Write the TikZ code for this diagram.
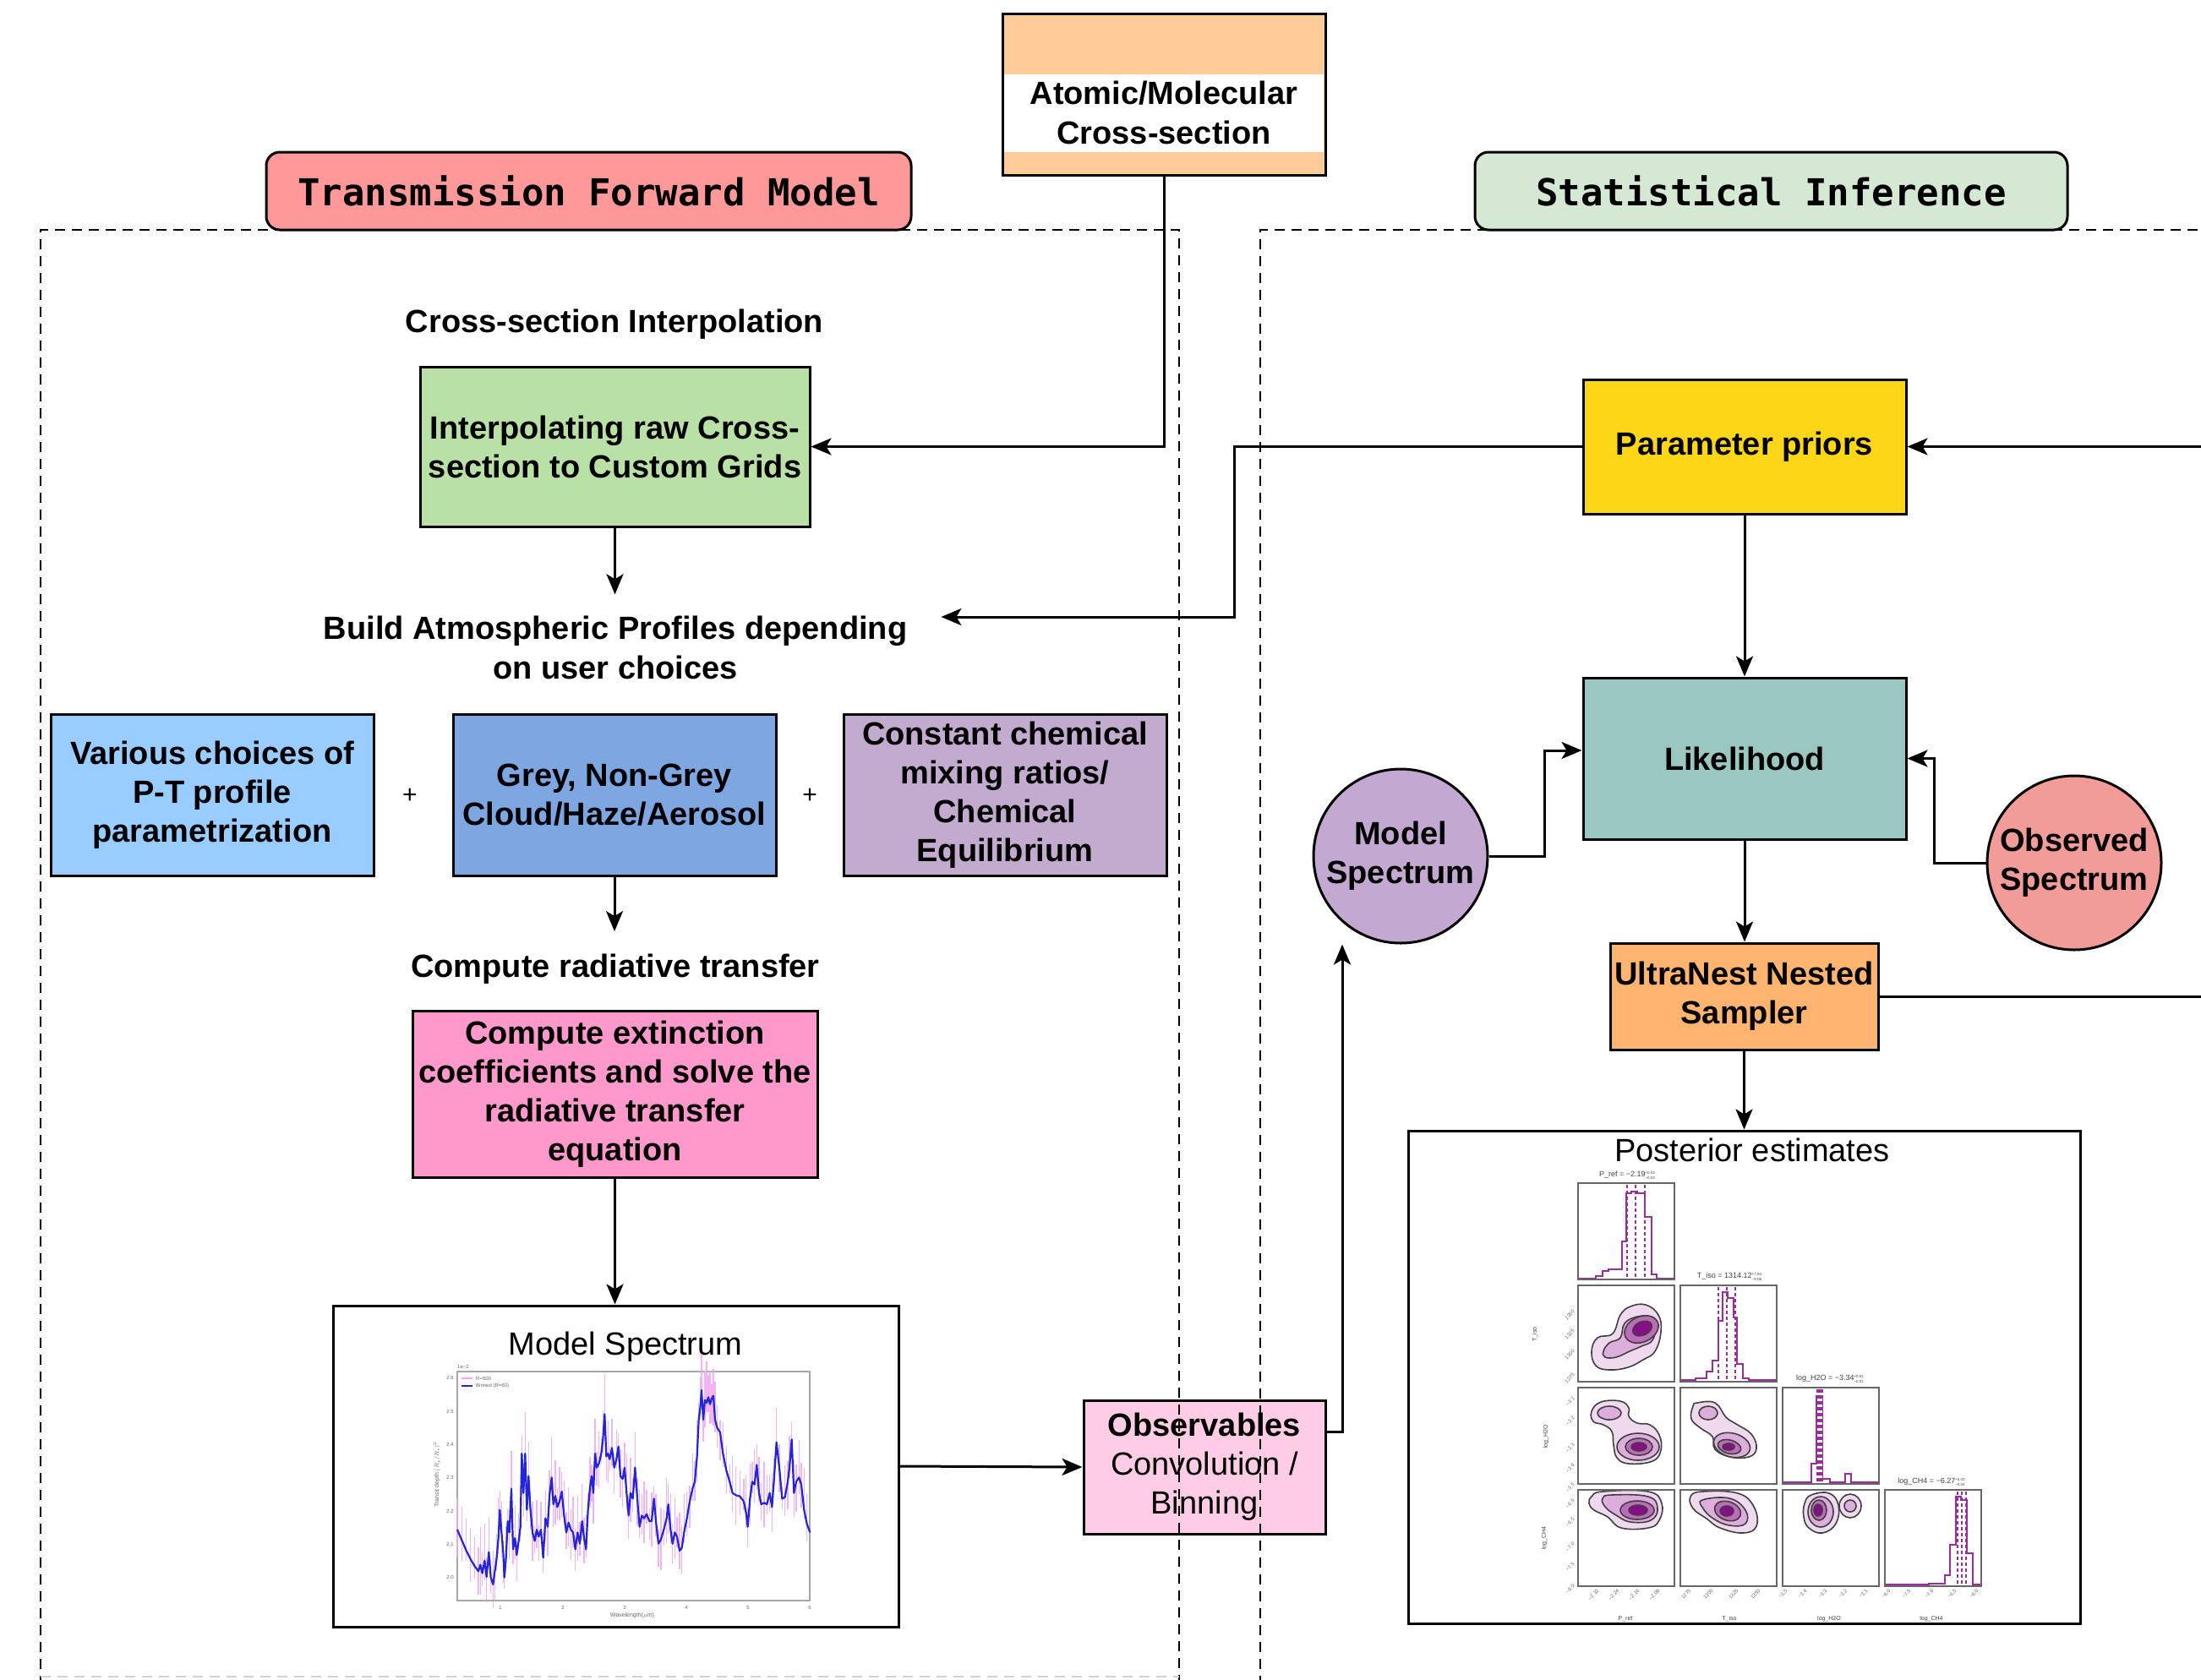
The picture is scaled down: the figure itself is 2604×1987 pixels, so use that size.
\documentclass[tikz,border=0pt]{standalone}
\usepackage{fontspec}
\setmainfont{Liberation Sans}
\setmonofont{DejaVu Sans Mono}
\usetikzlibrary{arrows.meta,shapes.geometric,calc}
\definecolor{cAtom}{HTML}{FFCC99}
\definecolor{cHdrL}{HTML}{FF9999}
\definecolor{cHdrR}{HTML}{D5E8D4}
\definecolor{cInterp}{HTML}{B9E0A5}
\definecolor{cPrior}{HTML}{FDD617}
\definecolor{cLik}{HTML}{9AC7BF}
\definecolor{cMS}{HTML}{C3A8D1}
\definecolor{cObsd}{HTML}{F19C99}
\definecolor{cUltra}{HTML}{FFB570}
\definecolor{cPT}{HTML}{99CCFF}
\definecolor{cCloud}{HTML}{7EA6E0}
\definecolor{cChem}{HTML}{C3ABD0}
\definecolor{cComp}{HTML}{FF99CC}
\definecolor{cObs}{HTML}{FFCCE6}
\definecolor{cpA}{HTML}{EFD9EF}
\definecolor{cpB}{HTML}{DDAEDB}
\definecolor{cpC}{HTML}{BB6DB9}
\definecolor{cpD}{HTML}{880E88}
\definecolor{cHist}{HTML}{9B2C9B}
\definecolor{cBlue}{HTML}{2424D8}
\definecolor{cPinkBar}{HTML}{F2A6F2}
\newcommand\pmerr[2]{\raisebox{-0.6ex}{\fontsize{4.5}{7}\selectfont\shortstack[l]{#1\\#2}}}
\begin{document}
\begin{tikzpicture}[x=1pt,y=-1pt,
  box/.style={draw=black, line width=3pt, align=center, font=\fontsize{38}{46}\selectfont\bfseries, inner sep=0pt},
  hdr/.style={draw=black, line width=3pt, rounded corners=16pt, font=\fontsize{44}{50}\selectfont\ttfamily\bfseries, inner sep=0pt},
  lbl/.style={align=center, font=\fontsize{38}{47}\selectfont\bfseries, inner sep=27pt},
  arr/.style={line width=3pt, -{Stealth[length=24pt,width=20pt,inset=6pt]}},
  ln/.style={line width=3pt},
  dashbox/.style={line width=2.5pt, dash pattern=on 12pt off 8pt},
  pframe/.style={draw=gray!80!black, line width=1.2pt},
  cont/.style={draw=black!75, line width=1.6pt},
  hist/.style={draw=cHist, line width=1.8pt},
  hdash/.style={draw=cHist, line width=1.4pt, dash pattern=on 4pt off 3pt},
  tiny/.style={font=\fontsize{6}{7}\selectfont, text=black!60, inner sep=0pt},
  ptitle/.style={font=\fontsize{9}{10}\selectfont, text=black!75, inner sep=0pt}
]
\clip (0,0) rectangle (2604,1987);
\fill[white] (0,0) rectangle (2604,1987);

% headers
\node[hdr, fill=cHdrL, minimum width=763pt, minimum height=92pt] (hdrL) at (696.5,226) {Transmission Forward Model};
\node[hdr, fill=cHdrR, minimum width=701pt, minimum height=92pt] (hdrR) at (2095.5,226) {Statistical Inference};

% atomic cross-section
\node[box, fill=cAtom, minimum width=382pt, minimum height=191pt] (atom) at (1377,111.5) {};
\fill[white] (1188,88) rectangle (1566,180);
\node[lbl, inner sep=0pt] (atomtxt) at (1377,133) {Atomic/Molecular\\Cross-section};

% left column
\node[lbl, inner sep=0pt] (interpttl) at (727,384) {Cross-section Interpolation};
\node[box, fill=cInterp, minimum width=461pt, minimum height=189pt] (interp) at (727.5,528.5) {Interpolating raw Cross-\\section to Custom Grids};
\node[lbl, inner xsep=40pt, inner ysep=25pt] (build) at (728,766) {Build Atmospheric Profiles depending\\on user choices};

\node[box, fill=cPT, minimum width=382pt, minimum height=191pt] (pt) at (251,940.5) {Various choices of\\P-T profile\\parametrization};
\node[box, fill=cCloud, minimum width=382pt, minimum height=191pt] (cloud) at (727,940.5) {Grey, Non-Grey\\Cloud/Haze/Aerosol};
\node[box, fill=cChem, minimum width=382pt, minimum height=191pt] (chem) at (1189,940.5) {Constant chemical\\mixing ratios/\\Chemical\\Equilibrium};
\node[font=\fontsize{30}{30}\selectfont] (plus1) at (485,942) {+};
\node[font=\fontsize{30}{30}\selectfont] (plus2) at (958,942) {+};

\node[lbl] (radttl) at (728,1147) {Compute radiative transfer};
\node[box, fill=cComp, minimum width=479pt, minimum height=197pt] (comp) at (727.5,1294.5) {Compute extinction\\coefficients and solve the\\radiative transfer\\equation};

\node[box, fill=white, minimum width=669pt, minimum height=380pt] (spec) at (728.5,1735) {};
\node[font=\fontsize{38}{40}\selectfont, inner sep=0pt] (specttl) at (740,1594) {Model Spectrum};

\node[box, fill=cObs, minimum width=286pt, minimum height=158pt, font=\fontsize{38}{46}\selectfont] (obs) at (1425,1736) {\textbf{Observables}\\Convolution /\\Binning};

% spectrum plot
\draw[gray!70, line width=1.2pt] (541,1623) rectangle (958,1894);
\begin{scope}[xshift=480pt, yshift=-1580pt, x=0.33333pt, y=-0.33333pt]
\foreach \X/\Y in {183/690,200/730,215/765,230/795,245/820,258/838,265/815,272/845,280/800,287/858,295/770,302/860,310/885,316/840,322/800,329/720,334/620,340/700,346/770,350/860,356/790,362/660,368/700,375/545,381/760,388/720,394/780,401/730,407/680,412/420,418/560,424/420,430/620,436/500,442/610,450/700,458/730,465/690,472/715,480/690,488/790,496/650,504/680,510/570,518/505,524/600,531/570,538/610,546/590,554/555,562/640,570/700,578/665,586/690,594/700,602/760,610/700,618/740,626/660,633/720,640/760,647/620,654/540,660/500,666/560,672/420,678/470,686/455,694/420,700/370,706/280,712/430,718/420,724/440,732/400,740/470,748/440,755/395,762/500,770/510,777/470,784/560,791/640,798/560,806/580,814/470,822/580,830/680,838/640,846/650,855/635,865/660,873/660,881/580,888/660,897/740,906/725,916/690,926/650,932/600,940/690,947/740,955/700,963/715,972/765,980/755,988/700,998/650,1008/590,1018/545,1026/520,1034/430,1040/300,1046/250,1050/195,1056/300,1062/230,1068/240,1074/220,1080/245,1086/225,1092/215,1098/300,1106/330,1116/345,1126/420,1138/480,1150/520,1160/560,1172/568,1186/572,1200/590,1208/630,1214/680,1222/580,1230/520,1238/530,1246/460,1254/560,1262/600,1272/595,1282/600,1292/560,1300/610,1308/500,1316/380,1326/470,1336/580,1346/575,1356/520,1362/470,1370/370,1378/560,1386/520,1396/505,1404/530,1414/620,1424/670}
  {\draw[cPinkBar, opacity=0.85, line width=1.4pt] (\X,{\Y-40-mod(\X*7,110)}) -- (\X,{\Y+30+mod(\X*3,80)});}
\draw[cBlue, line width=2.2pt, line join=round] plot coordinates {(183,690) (200,730) (215,765) (230,795) (245,820) (258,838) (265,815) (272,845) (280,800) (287,858) (295,770) (302,860) (310,885) (316,840) (322,800) (329,720) (334,620) (340,700) (346,770) (350,860) (356,790) (362,660) (368,700) (375,545) (381,760) (388,720) (394,780) (401,730) (407,680) (412,420) (418,560) (424,420) (430,620) (436,500) (442,610) (450,700) (458,730) (465,690) (472,715) (480,690) (488,790) (496,650) (504,680) (510,570) (518,505) (524,600) (531,570) (538,610) (546,590) (554,555) (562,640) (570,700) (578,665) (586,690) (594,700) (602,760) (610,700) (618,740) (626,660) (633,720) (640,760) (647,620) (654,540) (660,500) (666,560) (672,420) (678,470) (686,455) (694,420) (700,370) (706,280) (712,430) (718,420) (724,440) (732,400) (740,470) (748,440) (755,395) (762,500) (770,510) (777,470) (784,560) (791,640) (798,560) (806,580) (814,470) (822,580) (830,680) (838,640) (846,650) (855,635) (865,660) (873,660) (881,580) (888,660) (897,740) (906,725) (916,690) (926,650) (932,600) (940,690) (947,740) (955,700) (963,715) (972,765) (980,755) (988,700) (998,650) (1008,590) (1018,545) (1026,520) (1034,430) (1040,300) (1046,250) (1050,195) (1056,300) (1062,230) (1068,240) (1074,220) (1080,245) (1086,225) (1092,215) (1098,300) (1106,330) (1116,345) (1126,420) (1138,480) (1150,520) (1160,560) (1172,568) (1186,572) (1200,590) (1208,630) (1214,680) (1222,580) (1230,520) (1238,530) (1246,460) (1254,560) (1262,600) (1272,595) (1282,600) (1292,560) (1300,610) (1308,500) (1316,380) (1326,470) (1336,580) (1346,575) (1356,520) (1362,470) (1370,370) (1378,560) (1386,520) (1396,505) (1404,530) (1414,620) (1424,670) (1435,700)};
\end{scope}
\draw[cPinkBar, line width=1.2pt] (546,1631) -- (559,1631);
\node[tiny, anchor=west] (leg1) at (563,1631) {R=500};
\draw[cBlue, line width=1.5pt] (546,1640) -- (559,1640);
\node[tiny, anchor=west] (leg2) at (563,1640) {Binned (R=60)};
\node[tiny, anchor=west] (ex) at (541,1617) {1e−2};
\foreach \v/\yy in {2.0/1866,2.1/1827,2.2/1788,2.3/1748,2.4/1709,2.5/1670,2.6/1630}
  {\node[tiny, anchor=east] at (537,\yy) {\v};}
\foreach \w/\xx in {1/592,2/666,3/739,4/812,5/885,6/958}
  {\node[tiny] at (\xx,1902) {\w};}
\node[tiny, font=\fontsize{7}{8}\selectfont] (wl) at (748,1912) {Wavelength($\mu$m)};
\node[tiny, font=\fontsize{7}{8}\selectfont, rotate=90] (td) at (517,1745) {Transit depth $(R_p/R_*)^2$};

% right column
\node[box, fill=cPrior, minimum width=382pt, minimum height=159pt] (prior) at (2064,528.5) {Parameter priors};
\node[box, fill=cLik, minimum width=382pt, minimum height=191pt] (lik) at (2064,897.5) {Likelihood};
\node[box, circle, fill=cMS, minimum size=206pt] (ms) at (1657,1013) {Model\\Spectrum};
\node[box, circle, fill=cObsd, minimum size=206pt] (obsd) at (2454,1021) {Observed\\Spectrum};
\node[box, fill=cUltra, minimum width=317pt, minimum height=126pt] (ultra) at (2063.5,1179) {UltraNest Nested\\Sampler};
\node[box, fill=white, minimum width=795pt, minimum height=583pt] (post) at (2063.5,1629.5) {};
\node[font=\fontsize{38}{40}\selectfont, inner sep=0pt] (postttl) at (2073,1361) {Posterior estimates};

% corner plot
% r1c1
\begin{scope}[xshift=1867pt,yshift=-1400pt]
\draw[hist] (0,113) -| (21,110) -| (29,104) -| (36,102) -| (52,69) -| (57,12) -| (63,10) -| (70,12) -| (79,40) -| (87,108) -| (93,113) -- (114,113);
\foreach \d in {58,68,79} {\draw[hdash] (\d,2) -- (\d,113);}
\draw[pframe] (0,0) rectangle (114,114);
\end{scope}
% r2c1
\begin{scope}[xshift=1867pt,yshift=-1521pt]
\filldraw[cont, fill=cpA] plot[smooth cycle, tension=0.7] coordinates {(16,78) (23,62) (41,57) (50,35) (62,25) (80,23) (95,35) (98,55) (91,78) (77,88) (59,97) (37,100) (21,95)};
\filldraw[cont, fill=cpB] plot[smooth cycle, tension=0.7] coordinates {(30,78) (37,68) (50,62) (55,45) (70,37) (84,38) (91,48) (88,65) (75,72) (61,78) (45,85) (32,85)};
\filldraw[cont, fill=cpC] (75,52) ellipse [x radius=21, y radius=15, rotate=25];
\filldraw[cont, fill=cpD] (76,51) ellipse [x radius=12, y radius=8, rotate=25];
\draw[pframe] (0,0) rectangle (114,114);
\end{scope}
% r2c2
\begin{scope}[xshift=1988pt,yshift=-1521pt]
\draw[hist] (0,112) -| (18,110) -| (31,102) -| (38,89) -| (45,42) -| (50,8) -| (56,15) -| (63,38) -| (67,93) -| (74,110) -| (81,112) -- (114,112);
\foreach \d in {45,55,65} {\draw[hdash] (\d,2) -- (\d,112);}
\draw[pframe] (0,0) rectangle (114,114);
\end{scope}
% r3c1
\begin{scope}[xshift=1867pt,yshift=-1642pt]
\filldraw[cont, fill=cpA] plot[smooth cycle, tension=0.7] coordinates {(16,28) (27,17) (50,16) (60,24) (60,34) (70,42) (85,44) (96,56) (98,74) (88,87) (60,90) (46,83) (42,68) (40,52) (30,44) (18,40)};
\filldraw[cont, fill=cpB] (37,30) ellipse [x radius=14, y radius=8];
\filldraw[cont, fill=cpB] (71,70) ellipse [x radius=25, y radius=16];
\filldraw[cont, fill=cpC] (72,70) ellipse [x radius=16, y radius=10];
\filldraw[cont, fill=cpD] (72,70) ellipse [x radius=9, y radius=5];
\draw[pframe] (0,0) rectangle (114,114);
\end{scope}
% r3c2
\begin{scope}[xshift=1988pt,yshift=-1642pt]
\filldraw[cont, fill=cpA] plot[smooth cycle, tension=0.7] coordinates {(15,22) (20,18) (41,18) (54,35) (66,43) (84,55) (90,72) (81,82) (59,82) (41,73) (38,58) (24,48) (13,37)};
\filldraw[cont, fill=cpB] (33,30) ellipse [x radius=11, y radius=8];
\filldraw[cont, fill=cpB] (61,68) ellipse [x radius=22, y radius=14, rotate=-15];
\filldraw[cont, fill=cpC] (58,70) ellipse [x radius=14, y radius=8, rotate=-15];
\filldraw[cont, fill=cpD] (57,70) ellipse [x radius=7, y radius=4];
\draw[pframe] (0,0) rectangle (114,114);
\end{scope}
% r3c3
\begin{scope}[xshift=2109pt,yshift=-1642pt]
\draw[hist] (0,112) -| (34,90) -| (40,10) -| (47.5,108) -| (56,112) -| (74,102) -| (81,112) -- (114,112);
\foreach \d in {41,43,45,47} {\draw[hdash] (\d,2) -- (\d,112);}
\draw[pframe] (0,0) rectangle (114,114);
\end{scope}
% r4c1
\begin{scope}[xshift=1867pt,yshift=-1763pt]
\filldraw[cont, fill=cpA] plot[smooth cycle, tension=0.7] coordinates {(16,8) (29,2) (83,2) (99,16) (96,36) (83,45) (51,45) (35,32) (19,24) (13,16)};
\filldraw[cont, fill=cpB] plot[smooth cycle, tension=0.7] coordinates {(29,10) (40,6) (83,8) (94,22) (86,36) (62,38) (45,30) (32,20)};
\filldraw[cont, fill=cpC] (70,24) ellipse [x radius=20, y radius=11];
\filldraw[cont, fill=cpD] (71,24) ellipse [x radius=11, y radius=6];
\draw[pframe] (0,0) rectangle (114,114);
\end{scope}
% r4c2
\begin{scope}[xshift=1988pt,yshift=-1763pt]
\filldraw[cont, fill=cpA] plot[smooth cycle, tension=0.7] coordinates {(12,8) (26,2) (68,4) (87,20) (90,43) (74,51) (47,45) (31,34) (15,22)};
\filldraw[cont, fill=cpB] plot[smooth cycle, tension=0.7] coordinates {(26,12) (58,10) (77,24) (77,40) (58,42) (39,34) (27,22)};
\filldraw[cont, fill=cpC] (56,25) ellipse [x radius=16, y radius=11, rotate=-20];
\filldraw[cont, fill=cpD] (55,25) ellipse [x radius=8, y radius=6];
\draw[pframe] (0,0) rectangle (114,114);
\end{scope}
% r4c3
\begin{scope}[xshift=2109pt,yshift=-1763pt]
\filldraw[cont, fill=cpA] plot[smooth cycle, tension=0.7] coordinates {(26,16) (34,6) (55,4) (66,18) (63,40) (47,51) (31,45) (25,32)};
\filldraw[cont, fill=cpA] (80,19) ellipse [x radius=13, y radius=14];
\filldraw[cont, fill=cpB] (80,19) ellipse [x radius=7, y radius=7];
\filldraw[cont, fill=cpB] (45,26) ellipse [x radius=15, y radius=18];
\filldraw[cont, fill=cpC] (43,24) ellipse [x radius=9, y radius=12];
\filldraw[cont, fill=cpD] (42,24) ellipse [x radius=5, y radius=7];
\draw[pframe] (0,0) rectangle (114,114);
\end{scope}
% r4c4
\begin{scope}[xshift=2230pt,yshift=-1763pt]
\draw[hist] (0,112) -| (52,111) -| (71,101) -| (77,65) -| (84,8) -| (90,12) -| (97,75) -| (104,112) -- (114,112);
\foreach \d in {86,91,96} {\draw[hdash] (\d,2) -- (\d,112);}
\draw[pframe] (0,0) rectangle (114,114);
\end{scope}
% corner titles and labels
\node[ptitle] (tt1) at (1925,1391) {P\_ref = −2.19\pmerr{+0.03}{−0.03}};
\node[ptitle] (tt2) at (2046,1511) {T\_iso = 1314.12\pmerr{+7.94}{−9.08}};
\node[ptitle] (tt3) at (2165,1632) {log\_H2O = −3.34\pmerr{+0.01}{−0.01}};
\node[ptitle] (tt4) at (2285,1754) {log\_CH4 = −6.27\pmerr{+0.03}{−0.03}};
\node[ptitle, font=\fontsize{7}{8}\selectfont] (bx1) at (1923,1916) {P\_ref};
\node[ptitle, font=\fontsize{7}{8}\selectfont] (bx2) at (2046,1916) {T\_iso};
\node[ptitle, font=\fontsize{7}{8}\selectfont] (bx3) at (2164,1916) {log\_H2O};
\node[ptitle, font=\fontsize{7}{8}\selectfont] (bx4) at (2285,1916) {log\_CH4};
\node[ptitle, font=\fontsize{7}{8}\selectfont, rotate=90] (ly2) at (1816,1579) {T\_iso};
\node[ptitle, font=\fontsize{7}{8}\selectfont, rotate=90] (ly3) at (1829,1700) {log\_H2O};
\node[ptitle, font=\fontsize{7}{8}\selectfont, rotate=90] (ly4) at (1827,1820) {log\_CH4};
\foreach \t/\xx in {−2.32/1889,−2.24/1913,−2.16/1937,−2.08/1961,1275/1998,1300/2024,1325/2054,1350/2080,−3.5/2112,−3.4/2135,−3.3/2159,−3.2/2183,−3.1/2207,−8.0/2234,−7.5/2258,−7.0/2285,−6.5/2312,−6.0/2338}
  {\node[tiny, rotate=45, anchor=north east] at (\xx,1880) {\t};}
\foreach \t/\yy in {1350/1551,1325/1574,1300/1598,1275/1626,−3.1/1654,−3.2/1677,−3.3/1709,−3.4/1733,−3.5/1756,−6.0/1775,−6.5/1797,−7.0/1826,−7.5/1850,−8.0/1876}
  {\node[tiny, rotate=45, anchor=east] at (1862,\yy) {\t};}

% connectors
\coordinate (kb) at (1460,730);
\coordinate (kobs) at (1588,1694);
\coordinate (kms) at (1827,888);
\coordinate (kod) at (2288,897.5);
\coordinate (offA) at (2610,528.5);
\coordinate (offB) at (2610,1179);
\draw[arr] (atom.south) |- (interp.east);
\draw[arr] (interp.south) -- (interp.south |- build.north);
\draw[arr] (prior.west) -| (kb) -- (build.east |- kb);
\draw[arr] (cloud.south) -- (cloud.south |- radttl.north);
\draw[arr] (comp.south) -- (comp.south |- spec.north);
\draw[arr] (spec.east) -- (obs.west);
\draw[arr] (obs.east |- kobs) -- (kobs) -- (kobs |- ms.south);
\draw[arr] (ms.east) -| (kms) -- (lik.west |- kms);
\draw[arr] (obsd.west) -| (kod) -- (lik.east);
\draw[arr] (offA) -- (prior.east);
\draw[arr] (prior.south) -- (lik.north);
\draw[arr] (lik.south) -- (lik.south |- ultra.north);
\draw[ln] (ultra.east) -- (offB);
\draw[arr] (ultra.south) -- (ultra.south |- post.north);

% dashed group frames
\draw[dashbox] (48,1995) -- (48,272) -- (1395,272) -- (1395,1995);
\draw[dashbox, gray!35] (48,1984) -- (1395,1984);
\draw[dashbox] (1491,1995) -- (1491,272) -- (2620,272);
\end{tikzpicture}
\end{document}
